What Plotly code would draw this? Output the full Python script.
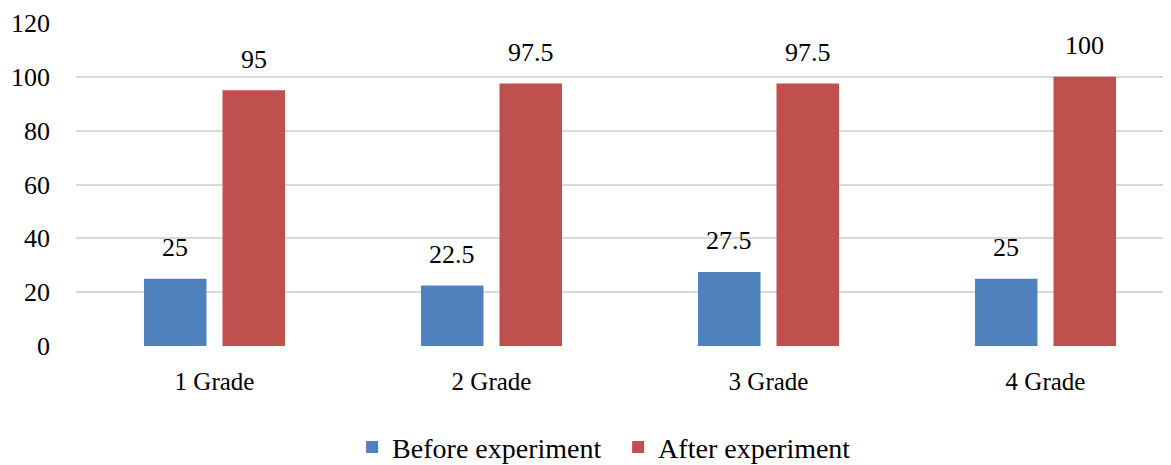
import plotly.graph_objects as go

categories = ["1 Grade", "2 Grade", "3 Grade", "4 Grade"]
before = [25, 22.5, 27.5, 25]
after = [95, 97.5, 97.5, 100]
y_ticks = [0, 20, 40, 60, 80, 100, 120]

BLUE = "#4F81BD"
RED = "#C0504D"
FONT = "Times New Roman, Liberation Serif, serif"

fig = go.Figure()
fig.add_trace(go.Bar(name="Before experiment", x=categories, y=before,
                     marker=dict(color=BLUE, line=dict(width=0))))
fig.add_trace(go.Bar(name="After experiment", x=categories, y=after,
                     marker=dict(color=RED, line=dict(width=0))))

# data labels above bars
for i, c in enumerate(categories):
    for val, sh in ((before[i], -39.3), (after[i], 39.3)):
        fig.add_annotation(x=c, y=val, xref="x", yref="y", text=f"{val:g}",
                           showarrow=False, xshift=sh, yshift=31,
                           font=dict(family=FONT, size=26, color="#000"))

fig.update_layout(
    width=1171, height=465,
    margin=dict(l=68, r=0, t=15, b=125),
    paper_bgcolor="white", plot_bgcolor="white",
    barmode="group", bargap=0.433, bargroupgap=0.204,
    font=dict(family=FONT, size=25, color="#000"),
    showlegend=True,
    legend=dict(orientation="h", x=0.4915, xanchor="center", xref="paper",
                y=-0.314, yanchor="middle", yref="paper",
                font=dict(family=FONT, size=28, color="#000"),
                itemwidth=30, traceorder="normal", entrywidth=221),
)
fig.update_xaxes(type="category", range=[-0.5, 3.482], showline=False,
                 showgrid=False, ticks="", ticklabelstandoff=18,
                 tickfont=dict(family=FONT, size=25, color="#000"))
fig.update_yaxes(range=[0, 120], tickvals=y_ticks, showgrid=True,
                 gridcolor="#D9D9D9", gridwidth=1.5, zeroline=False,
                 showline=False, ticks="", ticklabelstandoff=25,
                 tickfont=dict(family=FONT, size=26, color="#000"))

fig.write_html("out.html")
